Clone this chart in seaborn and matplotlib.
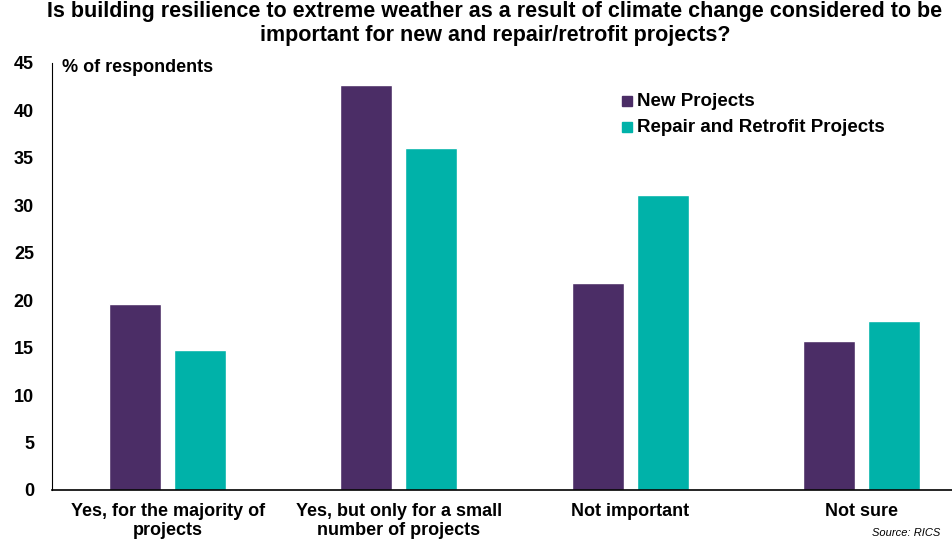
import numpy as np
import pandas as pd
import matplotlib.pyplot as plt
import seaborn as sns

# data
categories = ["Yes, for the majority of\nprojects",
              "Yes, but only for a small\nnumber of projects",
              "Not important",
              "Not sure"]
new_projects = [19.6, 42.7, 21.8, 15.7]
repair_projects = [14.8, 36.0, 31.1, 17.8]
series_names = ["New Projects", "Repair and Retrofit Projects"]
palette = ["#4B2D66", "#00B2A9"]

df = pd.DataFrame({
    "category": categories * 2,
    "series": [series_names[0]] * 4 + [series_names[1]] * 4,
    "value": new_projects + repair_projects,
})

sns.set_style("white")
plt.rcParams['font.family'] = ['Liberation Sans', 'DejaVu Sans']
plt.rcParams['text.color'] = 'black'
plt.rcParams['xtick.color'] = 'black'
plt.rcParams['ytick.color'] = 'black'

fig = plt.figure(figsize=(9.53, 5.39), dpi=100)
ax = fig.add_axes([52 / 953, 1 - 490 / 539, 925 / 953, 427 / 539])

sns.barplot(data=df, x="category", y="value", hue="series", palette=palette,
            width=0.563, gap=0.2, saturation=1, ax=ax, legend=False)

ax.set_ylim(0, 45)
ax.set_yticks(np.arange(0, 46, 5))
ax.set_xlim(-0.5, 3.5)
ax.set_xlabel("")
ax.set_ylabel("")
ax.tick_params(axis="both", length=0, labelsize=13)
ax.tick_params(axis="y", pad=13)
ax.tick_params(axis="x", pad=9)
for lab in ax.get_xticklabels() + ax.get_yticklabels():
    lab.set_fontweight("bold")
for s in ["top", "right"]:
    ax.spines[s].set_visible(False)
for s in ["left", "bottom"]:
    ax.spines[s].set_color("black")
ax.spines["bottom"].set_linewidth(1.2)
ax.spines["left"].set_linewidth(0.8)

ax.text(62 / 953, 1 - 68 / 539, "% of respondents", transform=fig.transFigure,
        fontsize=13, fontweight="bold", va="center", ha="left")

# legend
for i, (name, col) in enumerate(zip(series_names, palette)):
    y = (101 + 26 * i) / 539
    fig.patches.append(plt.Rectangle((622 / 953, 1 - y - 5 / 539), 10 / 953, 10 / 539,
                                     transform=fig.transFigure, color=col))
    fig.text(637 / 953, 1 - y, name, fontsize=13.5, fontweight="bold", va="center")

fig.suptitle("Is building resilience to extreme weather as a result of climate change considered to be\n"
             "important for new and repair/retrofit projects?",
             x=495 / 953, y=0.998, fontsize=15.5, fontweight="bold", linespacing=1.2)

fig.text(940 / 953, 1 - 533 / 539, "Source: RICS", fontsize=8, style="italic",
         ha="right", va="center")

fig.savefig("out.png", dpi=100)
